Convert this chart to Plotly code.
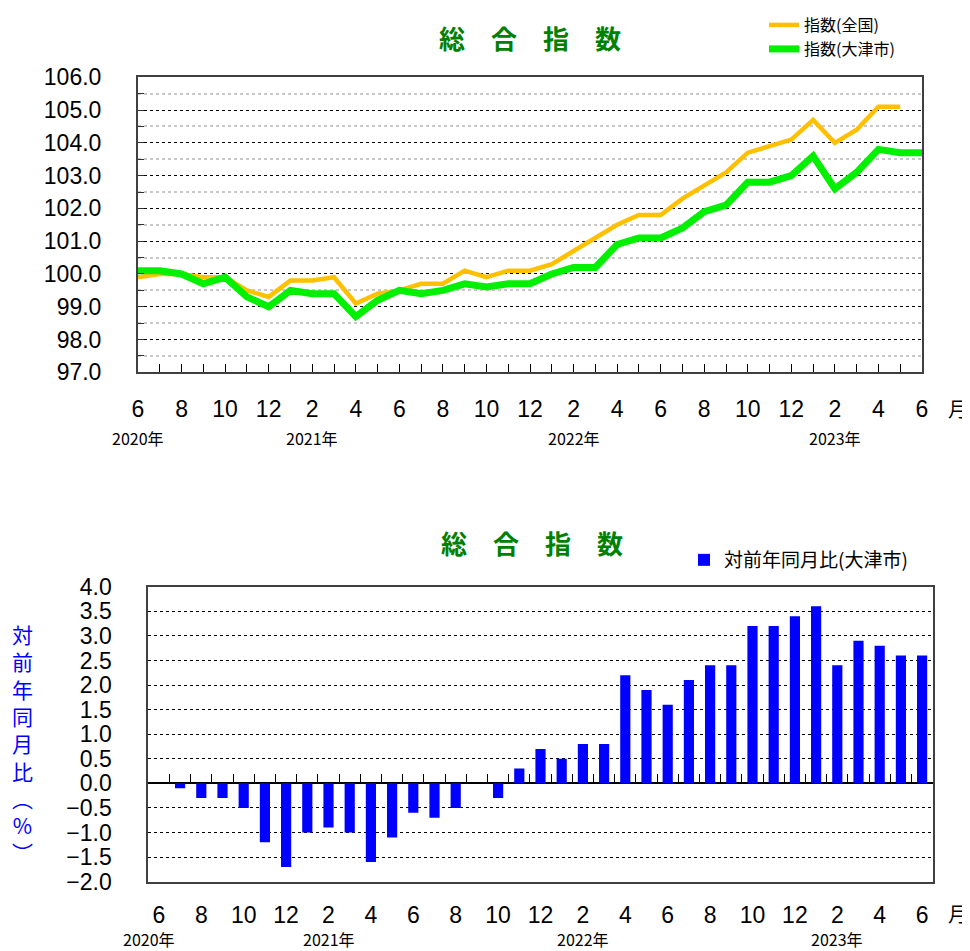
import plotly.graph_objects as go

# ---------------- data ----------------
months = [
    "2020-06", "2020-07", "2020-08", "2020-09", "2020-10", "2020-11", "2020-12",
    "2021-01", "2021-02", "2021-03", "2021-04", "2021-05", "2021-06",
    "2021-07", "2021-08", "2021-09", "2021-10", "2021-11", "2021-12",
    "2022-01", "2022-02", "2022-03", "2022-04", "2022-05", "2022-06",
    "2022-07", "2022-08", "2022-09", "2022-10", "2022-11", "2022-12",
    "2023-01", "2023-02", "2023-03", "2023-04", "2023-05", "2023-06",
]
index_national = [
    99.9, 100.0, 100.0, 99.9, 99.9, 99.5, 99.3,
    99.8, 99.8, 99.9, 99.1, 99.4, 99.5,
    99.7, 99.7, 100.1, 99.9, 100.1, 100.1,
    100.3, 100.7, 101.1, 101.5, 101.8, 101.8,
    102.3, 102.7, 103.1, 103.7, 103.9, 104.1,
    104.7, 104.0, 104.4, 105.1, 105.1, None,
]
index_otsu = [
    100.1, 100.1, 100.0, 99.7, 99.9, 99.3, 99.0,
    99.5, 99.4, 99.4, 98.7, 99.2, 99.5,
    99.4, 99.5, 99.7, 99.6, 99.7, 99.7,
    100.0, 100.2, 100.2, 100.9, 101.1, 101.1,
    101.4, 101.9, 102.1, 102.8, 102.8, 103.0,
    103.6, 102.6, 103.1, 103.8, 103.7, 103.7,
]
yoy_otsu = [
    None, -0.1, -0.3, -0.3, -0.5, -1.2, -1.7,
    -1.0, -0.9, -1.0, -1.6, -1.1, -0.6,
    -0.7, -0.5, 0.0, -0.3, 0.3, 0.7,
    0.5, 0.8, 0.8, 2.2, 1.9, 1.6,
    2.1, 2.4, 2.4, 3.2, 3.2, 3.4,
    3.6, 2.4, 2.9, 2.8, 2.6, 2.6,
]
year_labels = ["2020年", "2021年", "2022年", "2023年"]
year_label_months = ["2020-06", "2021-02", "2022-02", "2023-02"]

title_text = "総　合　指　数"
name_national = "指数(全国)"
name_otsu = "指数(大津市)"
name_yoy = "対前年同月比(大津市)"

# ---------------- styling ----------------
OFF = 8  # page body margin offset
W, H = 970 - OFF, 951 - OFF
NUM_FONT = "Liberation Sans"
JP_FONT = "Noto Sans CJK JP"
FRAME = "#404040"
TITLE_GREEN = "#008000"

def px_x(x):
    return (x - OFF) / W

def px_y(y):
    return 1 - (y - OFF) / H

tick_text_all = [str(int(m.split("-")[1])) if i % 2 == 0 else "" for i, m in enumerate(months)]
even_months = months[::2]
even_text = [str(int(m.split("-")[1])) for m in even_months]

fig = go.Figure()

# top chart lines
fig.add_trace(go.Scatter(
    x=months, y=index_national, name=name_national, mode="lines",
    line=dict(color="#FFC000", width=4.5), xaxis="x", yaxis="y",
    legend="legend", hoverinfo="skip",
))
fig.add_trace(go.Scatter(
    x=months, y=index_otsu, name=name_otsu, mode="lines",
    line=dict(color="#00F000", width=7), xaxis="x", yaxis="y",
    legend="legend2", hoverinfo="skip",
))

# bottom chart bars
fig.add_trace(go.Bar(
    x=months, y=yoy_otsu, name=name_yoy, marker=dict(color="#0000FF", line=dict(width=0)),
    width=0.48, xaxis="x2", yaxis="y2", legend="legend3", hoverinfo="skip",
))
# helper (invisible) trace so the zero-line tick axis has categories
fig.add_trace(go.Scatter(
    x=months, y=[0] * len(months), mode="lines", line=dict(width=0, color="rgba(0,0,0,0)"),
    xaxis="x3", yaxis="y2", showlegend=False, hoverinfo="skip",
))

top_dom_y = [px_y(372.3), px_y(77.3)]
bot_dom_y = [px_y(881.7), px_y(586.7)]
zero_pos = bot_dom_y[0] + (0 - (-2.0)) / 6.0 * (bot_dom_y[1] - bot_dom_y[0])

fig.update_layout(
    width=W, height=H,
    margin=dict(l=0, r=0, t=0, b=0, autoexpand=False),
    paper_bgcolor="white", plot_bgcolor="white",
    font=dict(family=NUM_FONT, color="black"),
    bargap=0.5,
    xaxis=dict(
        domain=[px_x(138), px_x(922)], anchor="y", automargin=False,
        type="category", categoryorder="array", categoryarray=months,
        range=[0, 36],
        tickmode="array", tickvals=months, ticktext=tick_text_all,
        ticks="inside", ticklen=8, tickwidth=1, tickcolor="black",
        ticklabelstandoff=15,
        tickfont=dict(size=23, family=NUM_FONT, color="black"),
        showline=True, mirror=True, linecolor=FRAME, linewidth=2,
        showgrid=False, zeroline=False,
    ),
    yaxis=dict(
        domain=top_dom_y, anchor="x", automargin=False,
        range=[97, 106], dtick=1, tick0=97, tickformat=".1f",
        ticks="inside", ticklen=6, tickcolor="#303030",
        ticklabelstandoff=30,
        tickfont=dict(size=23, family=NUM_FONT, color="black"),
        showgrid=True, gridcolor="black", griddash="dot", gridwidth=1,
        minor=dict(tick0=97.5, dtick=1, showgrid=True, gridcolor="#c8c8c8",
                   gridwidth=1.5, ticks="inside", ticklen=6, tickcolor="#303030"),
        showline=True, mirror=True, linecolor=FRAME, linewidth=2,
        zeroline=False,
    ),
    xaxis2=dict(
        domain=[px_x(148.3), px_x(932.7)], anchor="y2", automargin=False,
        type="category", categoryorder="array", categoryarray=months,
        range=[-0.5, 36.5],
        tickmode="array", tickvals=even_months, ticktext=even_text,
        ticks="", ticklabelstandoff=12,
        tickfont=dict(size=23, family=NUM_FONT, color="black"),
        showline=True, mirror=True, linecolor=FRAME, linewidth=2,
        showgrid=False, zeroline=False,
    ),
    xaxis3=dict(
        overlaying="x2", anchor="free", position=zero_pos, side="bottom", automargin=False,
        type="category", categoryorder="array", categoryarray=months,
        range=[-0.5, 36.5], tickmode="linear", dtick=1,
        tickson="boundaries", ticks="inside", ticklen=9, tickwidth=1, tickcolor="black",
        showticklabels=False, showline=False, showgrid=False, zeroline=False,
    ),
    yaxis2=dict(
        domain=bot_dom_y, anchor="x2", automargin=False,
        range=[-2.0, 4.0], dtick=0.5, tick0=0, tickformat=".1f",
        ticks="", ticklabelstandoff=30,
        tickfont=dict(size=23, family=NUM_FONT, color="black"),
        showgrid=True, gridcolor="black", griddash="dot", gridwidth=1,
        zeroline=True, zerolinecolor="black", zerolinewidth=2,
        showline=True, mirror=True, linecolor=FRAME, linewidth=2,
    ),
    legend=dict(
        x=px_x(764), y=1.0, xanchor="left", yanchor="top",
        font=dict(family=JP_FONT, size=16, color="black"),
        bgcolor="rgba(0,0,0,0)", borderwidth=0,
    ),
    legend2=dict(
        x=px_x(764), y=px_y(49), xanchor="left", yanchor="middle",
        font=dict(family=JP_FONT, size=16, color="black"),
        bgcolor="rgba(0,0,0,0)", borderwidth=0,
    ),
    legend3=dict(
        x=px_x(684), y=px_y(560), xanchor="left", yanchor="middle",
        font=dict(family=JP_FONT, size=19, color="black"),
        bgcolor="rgba(0,0,0,0)", borderwidth=0,
    ),
)

annotations = []
# titles
annotations.append(dict(
    text=f"<b>{title_text}</b>", x=px_x(530), y=px_y(38), xref="paper", yref="paper",
    showarrow=False, xanchor="center", yanchor="middle",
    font=dict(family=JP_FONT, size=26, color=TITLE_GREEN),
))
annotations.append(dict(
    text=f"<b>{title_text}</b>", x=px_x(532), y=px_y(542), xref="paper", yref="paper",
    showarrow=False, xanchor="center", yanchor="middle",
    font=dict(family=JP_FONT, size=26, color=TITLE_GREEN),
))
# 月 labels
for yy in (408, 913):
    annotations.append(dict(
        text="月", x=px_x(958), y=px_y(yy), xref="paper", yref="paper",
        showarrow=False, xanchor="center", yanchor="middle",
        font=dict(family=JP_FONT, size=20, color="black"),
    ))
# year labels
for lab, m in zip(year_labels, year_label_months):
    annotations.append(dict(
        text=lab, x=m, y=px_y(438), xref="x", yref="paper",
        showarrow=False, xanchor="center", yanchor="middle",
        font=dict(family=JP_FONT, size=16, color="black"),
    ))
    annotations.append(dict(
        text=lab, x=m, y=px_y(939), xref="x2", yref="paper",
        showarrow=False, xanchor="center", yanchor="middle",
        xshift=-10 if m == "2020-06" else 0,
        font=dict(family=JP_FONT, size=16, color="black"),
    ))
# vertical y-axis title (bottom chart)
annotations.append(dict(
    text="<br>".join(["対", "前", "年", "同", "月", "比", "︵", "%", "︶"]),
    x=px_x(22), y=px_y(743), xref="paper", yref="paper",
    showarrow=False, xanchor="center", yanchor="middle",
    font=dict(family=JP_FONT, size=21, color="#0000FF"),
))
fig.update_layout(annotations=annotations)

fig.write_html("out.html")
